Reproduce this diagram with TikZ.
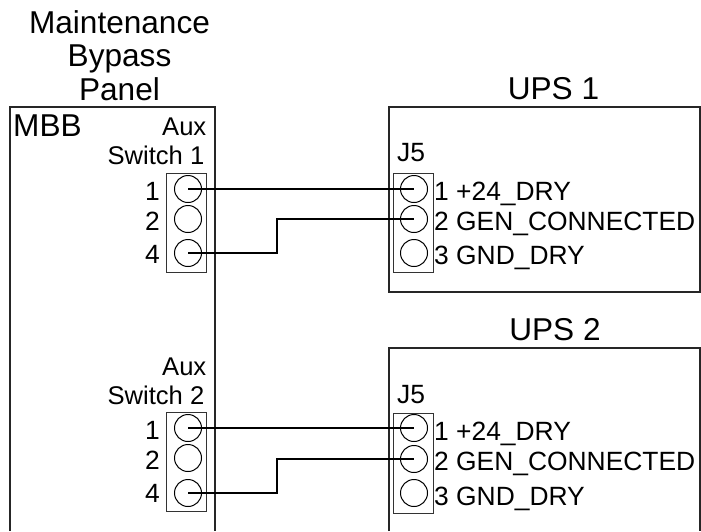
\documentclass[tikz,border=0pt]{standalone}
\usepackage{fontspec}
\setmainfont{Liberation Sans}
\usepackage{tikz}
\usetikzlibrary{
  calc,
  positioning
}
\tikzset{
  pinhole/.style={draw,circle,line width=1pt,minimum size=27pt,inner sep=0pt},
  header/.style={draw,draw=black!80,line width=0.8pt,minimum width=40pt,inner sep=0pt},
  panel/.style={line width=1.4pt,draw=black!85},
  wire/.style={line width=1.05pt},
  lbl/.style={inner sep=0pt,font=\fontsize{26.4}{26.4}\selectfont},
  auxlbl/.style={inner sep=0pt,font=\fontsize{25.6}{25.6}\selectfont},
  big/.style={inner sep=0pt,font=\fontsize{31.6}{31.6}\selectfont}
}
\begin{document}
\begin{tikzpicture}[x=1pt,y=-1pt]
\useasboundingbox (0,0) rectangle (701,531);
% panel outlines
\coordinate (mbbL) at (10,531);
\coordinate (mbbR) at (215,531);
\coordinate (upsL) at (389,531);
\coordinate (upsR) at (700,531);
\draw[panel] (mbbL) |- (215,107) -- (mbbR);
\draw[panel] (389,107) rectangle (700,292);
\draw[panel] (upsL) |- (700,348) -- (upsR);
% titles
\node[big,anchor=base] (tA) at (119.5,33) {Maintenance};
\node[big,anchor=base] (tB) at (119.5,66) {Bypass};
\node[big,anchor=base] (tC) at (119.5,100) {Panel};
\node[big,anchor=base] (tU) at (553.5,99) {UPS 1};
\node[big,anchor=base] (tV) at (555,340) {UPS 2};
\node[big,anchor=base west] (mbb) at (13,136) {MBB};
% headers
\node[header,minimum height=99pt] (hA) at (186,222.5) {};
\node[header,minimum height=99pt] (hB) at (186,461.5) {};
\node[header,minimum height=99pt] (hC) at (413,222.5) {};
\node[header,minimum height=100pt] (hD) at (413,463) {};
\foreach \k/\x/\ya/\yb/\yc in {%
  a/188/189/219/253,
  b/188/428/458/493,
  c/414/189/219/253,
  d/414/428/459/493%
} {
  \node[pinhole] (\k1) at (\x,\ya) {};
  \node[pinhole] (\k2) at (\x,\yb) {};
  \node[pinhole] (\k3) at (\x,\yc) {};
}
% left side labels
\foreach \k/\n/\ya/\yb/\yc/\ye/\yf in {%
  a/1/135/164/200/230/263,
  b/2/375/404/439/469/502%
} {
  \node[auxlbl,anchor=base east] (aux\k) at (206.5,\ya) {Aux};
  \node[auxlbl,anchor=base east] (sw\k) at (204.5,\yb) {Switch \n};
  \node[lbl,anchor=base east] (n\k1) at (160,\yc) {1};
  \node[lbl,anchor=base east] (n\k2) at (160,\ye) {2};
  \node[lbl,anchor=base east] (n\k3) at (160,\yf) {4};
}
% right side labels
\foreach \k/\yj/\ya/\yb/\yc in {%
  c/161/200/230/264,
  d/403/440/470/505%
} {
  \node[lbl,anchor=base west] (j\k) at (397,\yj) {J5};
  \node[lbl,anchor=base west] (s\k1) at (434,\ya) {1 +24\_DRY};
  \node[lbl,anchor=base west] (s\k2) at (434,\yb) {2 GEN\_CONNECTED};
  \node[lbl,anchor=base west] (s\k3) at (434,\yc) {3 GND\_DRY};
}
% wires
\coordinate (bendA) at (277,253);
\coordinate (bendB) at (277,493);
\draw[wire] (a1.center) -- (c1.center);
\draw[wire] (a3.center) -- (bendA) |- (c2.center);
\draw[wire] (b1.center) -- (d1.center);
\draw[wire] (b3.center) -- (bendB) |- (d2.center);
\end{tikzpicture}
\end{document}
